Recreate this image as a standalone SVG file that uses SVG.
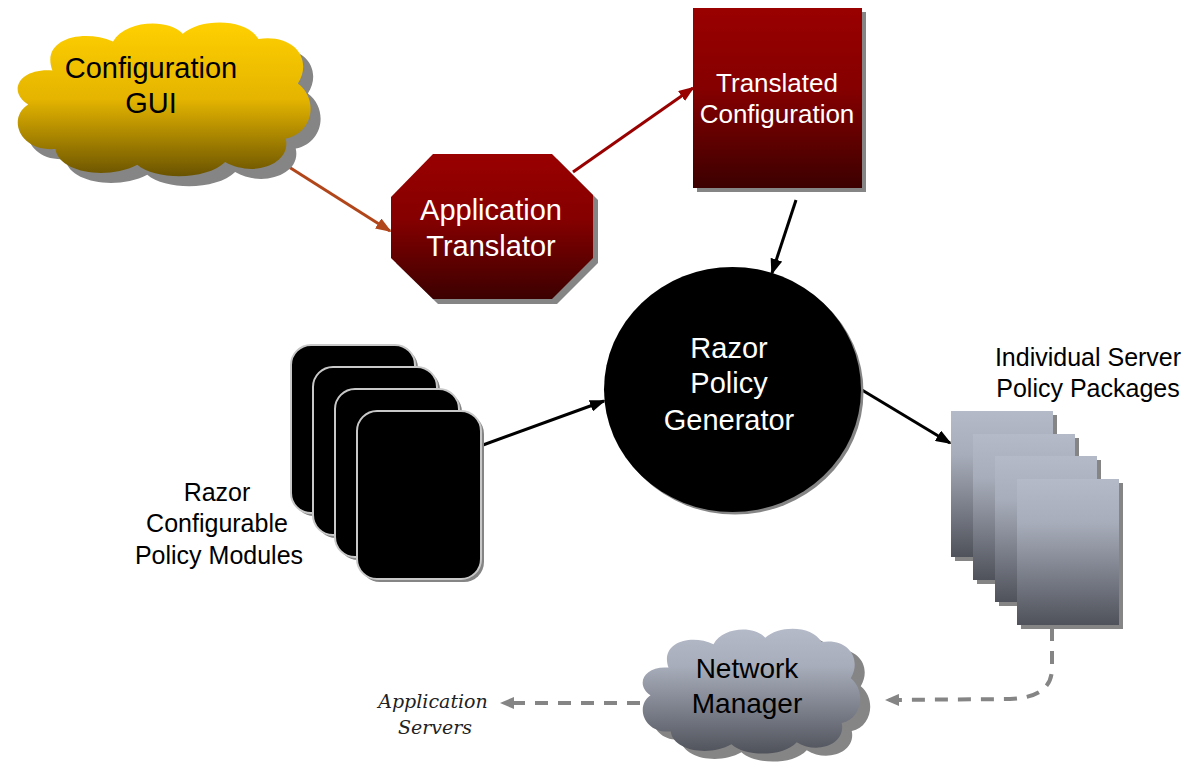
<svg xmlns="http://www.w3.org/2000/svg" width="1194" height="767" viewBox="0 0 1194 767">
<style>
.lbl{font-family:"Liberation Sans",Arial,sans-serif;text-anchor:middle}
.w{fill:#ffffff}
.b{fill:#000000}
.it{font-family:"DejaVu Serif","Liberation Serif",serif;font-style:italic;font-size:19px;text-anchor:middle;fill:#222}
.shadow{fill:#858585}
.conn{fill:none;stroke-width:3}
.dash{fill:none;stroke:#858585;stroke-width:4;stroke-dasharray:13 10}
</style>
<defs>
<linearGradient id="gYellow" x1="0" y1="0" x2="0" y2="1">
<stop offset="0" stop-color="#ffd000"/>
<stop offset="0.5" stop-color="#e4b400"/>
<stop offset="1" stop-color="#6a5300"/>
</linearGradient>
<linearGradient id="gRed" x1="0" y1="0" x2="0" y2="1">
<stop offset="0" stop-color="#9a0000"/>
<stop offset="0.45" stop-color="#850000"/>
<stop offset="1" stop-color="#3c0000"/>
</linearGradient>
<linearGradient id="gGray" x1="0" y1="0" x2="0" y2="1">
<stop offset="0" stop-color="#b5bac9"/>
<stop offset="0.3" stop-color="#a8adbb"/>
<stop offset="1" stop-color="#4f525a"/>
</linearGradient>
<path id="cloud" d="M14,20 C10,8 24,4 34,9 C38,1 52,0 57,6 C63,0 78,0 82,8 C94,6 100,16 95,25 C102,31 100,44 91,46 C93,56 80,61 71,55 C65,62 48,62 42,56 C32,62 16,59 15,50 C3,51 -1,38 6,33 C-1,28 3,19 14,20 Z"/>
<marker id="aBrown" markerUnits="userSpaceOnUse" markerWidth="16" markerHeight="12" refX="14" refY="6" orient="auto"><path d="M0,0 L16,6 L0,12 Z" fill="#b2461b"/></marker>
<marker id="aRed" markerUnits="userSpaceOnUse" markerWidth="16" markerHeight="12" refX="14" refY="6" orient="auto"><path d="M0,0 L16,6 L0,12 Z" fill="#990000"/></marker>
<marker id="aBlack" markerUnits="userSpaceOnUse" markerWidth="16" markerHeight="12" refX="14" refY="6" orient="auto"><path d="M0,0 L16,6 L0,12 Z" fill="#000000"/></marker>
<marker id="aGray" markerUnits="userSpaceOnUse" markerWidth="14" markerHeight="12" refX="12" refY="6" orient="auto"><path d="M0,0 L14,6 L0,12 Z" fill="#858585"/></marker>
</defs>
<rect width="1194" height="767" fill="#ffffff"/>

<g id="connectors">
<line class="conn" x1="270" y1="155" x2="390" y2="231" stroke="#b2461b" marker-end="url(#aBrown)"/>
<line class="conn" x1="573" y1="172" x2="693" y2="88" stroke="#990000" marker-end="url(#aRed)"/>
<line class="conn" x1="796" y1="200" x2="772" y2="273" stroke="#000" marker-end="url(#aBlack)"/>
<line class="conn" x1="483" y1="445" x2="604" y2="401" stroke="#000" marker-end="url(#aBlack)"/>
<line class="conn" x1="862" y1="390" x2="950" y2="443" stroke="#000" marker-end="url(#aBlack)"/>
<path class="dash" d="M1052,628 L1052,668 C1052,690 1035,698 1010,699 L887,700" marker-end="url(#aGray)"/>
<path class="dash" d="M640,703 L502,703" marker-end="url(#aGray)"/>
</g>

<g id="config-gui">
<use href="#cloud" class="shadow" transform="translate(20,28) scale(3.03,2.62)"/>
<use href="#cloud" fill="url(#gYellow)" transform="translate(10,18) scale(3.03,2.62)"/>
<text class="lbl b" x="151" y="78" font-size="29">Configuration</text>
<text class="lbl b" x="151" y="113" font-size="29">GUI</text>
</g>

<g id="app-translator">
<polygon class="shadow" points="438,159 557,159 598,200 598,263 557,304 438,304 396,263 396,202"/>
<polygon fill="url(#gRed)" points="433,154 552,154 593,195 593,258 552,299 433,299 391,258 391,197"/>
<text class="lbl w" x="491" y="220" font-size="29">Application</text>
<text class="lbl w" x="491" y="256" font-size="29">Translator</text>
</g>

<g id="translated-config">
<rect class="shadow" x="697" y="12" width="169" height="180"/>
<rect fill="url(#gRed)" x="693" y="8" width="169" height="180"/>
<text class="lbl w" x="777" y="92" font-size="26">Translated</text>
<text class="lbl w" x="777" y="123" font-size="26">Configuration</text>
</g>

<g id="policy-generator">
<ellipse class="shadow" cx="735" cy="392" rx="128.5" ry="122.5"/>
<ellipse fill="#000" cx="732.5" cy="389.5" rx="128.5" ry="122.5"/>
<text class="lbl w" x="729" y="358" font-size="29">Razor</text>
<text class="lbl w" x="729" y="393" font-size="29">Policy</text>
<text class="lbl w" x="729" y="430" font-size="29">Generator</text>
</g>

<g id="policy-modules">
<rect class="shadow" x="294" y="348" width="124" height="168" rx="20"/>
<rect x="291" y="345" width="124" height="168" rx="20" fill="#000" stroke="#c8c8c8" stroke-width="2"/>
<rect class="shadow" x="316" y="370" width="124" height="168" rx="20"/>
<rect x="313" y="367" width="124" height="168" rx="20" fill="#000" stroke="#c8c8c8" stroke-width="2"/>
<rect class="shadow" x="338" y="392" width="124" height="168" rx="20"/>
<rect x="335" y="389" width="124" height="168" rx="20" fill="#000" stroke="#c8c8c8" stroke-width="2"/>
<rect class="shadow" x="360" y="414" width="124" height="168" rx="20"/>
<rect x="357" y="411" width="124" height="168" rx="20" fill="#000" stroke="#c8c8c8" stroke-width="2"/>
<text class="lbl b" x="217" y="501" font-size="25">Razor</text>
<text class="lbl b" x="217" y="532" font-size="25">Configurable</text>
<text class="lbl b" x="219" y="564" font-size="25">Policy Modules</text>
</g>

<g id="server-packages">
<rect class="shadow" x="955" y="415" width="102" height="146"/>
<rect fill="url(#gGray)" x="951" y="411" width="102" height="146"/>
<rect class="shadow" x="977" y="438" width="102" height="146"/>
<rect fill="url(#gGray)" x="973" y="434" width="102" height="146"/>
<rect class="shadow" x="999" y="460" width="102" height="146"/>
<rect fill="url(#gGray)" x="995" y="456" width="102" height="146"/>
<rect class="shadow" x="1021" y="483" width="102" height="146"/>
<rect fill="url(#gGray)" x="1017" y="479" width="102" height="146"/>
<text class="lbl b" x="1088" y="366" font-size="25">Individual Server</text>
<text class="lbl b" x="1088" y="397" font-size="25">Policy Packages</text>
</g>

<g id="network-manager">
<use href="#cloud" class="shadow" transform="translate(647,633) scale(2.25,2.13)"/>
<use href="#cloud" fill="url(#gGray)" transform="translate(637,625) scale(2.25,2.13)"/>
<text class="lbl b" x="747" y="678" font-size="28">Network</text>
<text class="lbl b" x="747" y="713" font-size="28">Manager</text>
</g>

<g id="application-servers">
<text class="it" x="433" y="708">Application</text>
<text class="it" x="435" y="734">Servers</text>
</g>
</svg>
